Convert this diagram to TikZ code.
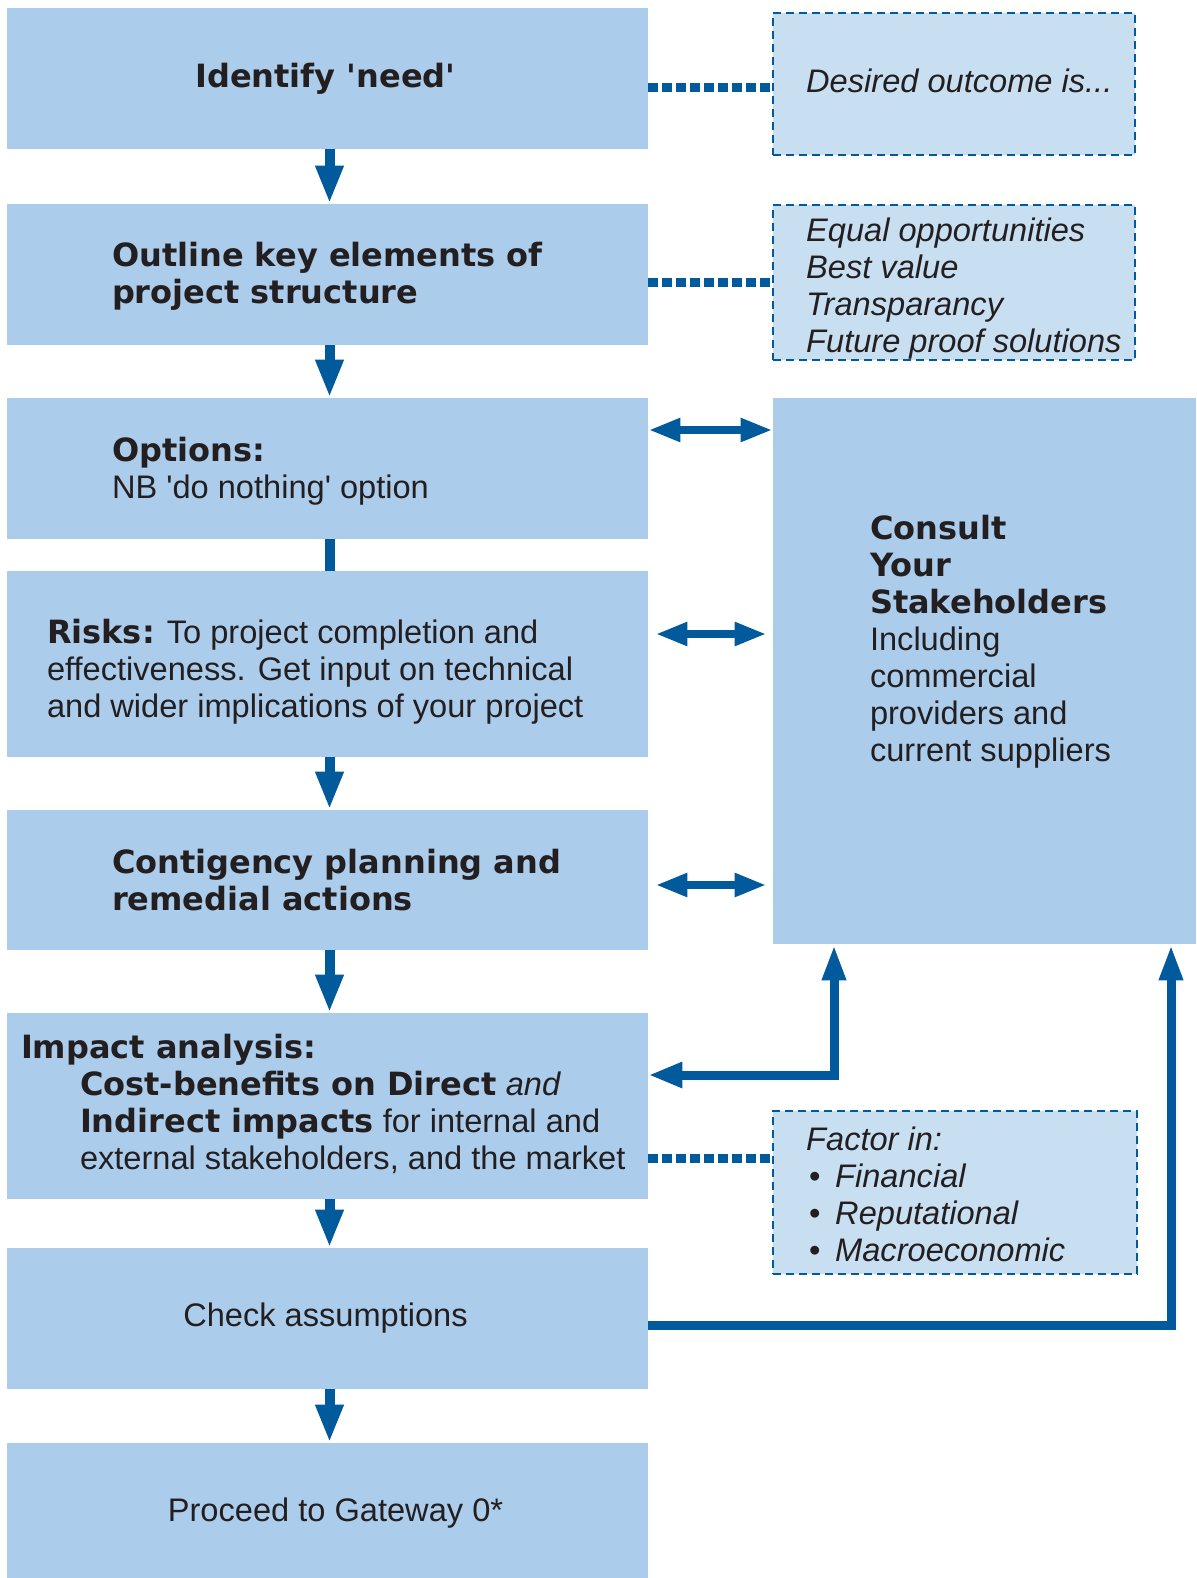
\documentclass[tikz,border=0pt]{standalone}
\usepackage{fontspec}
\setmainfont{Liberation Sans}[Ligatures=TeXOff, BoldFont={DejaVu Sans Bold}, BoldFeatures={Scale=0.982}]
\usetikzlibrary{arrows.meta,calc}
\definecolor{boxblue}{HTML}{ABCCEB}
\definecolor{notefill}{HTML}{C8DFF2}
\definecolor{arrowblue}{HTML}{005A9C}
\definecolor{ink}{HTML}{231F20}
\begin{document}
\begin{tikzpicture}[x=0.5pt,y=-0.5pt,
  box/.style={fill=boxblue, inner sep=0pt, minimum width=320.5pt},
  note/.style={fill=notefill, draw=arrowblue, line width=1.2pt, dash pattern=on 4pt off 2.5pt, inner sep=0pt},
  txt/.style={text=ink, font=\fontsize{16.3}{18.5}\selectfont, align=left, inner sep=0pt},
  flow/.style={draw=arrowblue, line width=5pt, -{Triangle[length=19pt,width=13pt]}},
  plainflow/.style={draw=arrowblue, line width=5pt},
  dotline/.style={draw=arrowblue, line width=4.5pt, dash pattern=on 5pt off 2pt},
  dbl/.style={draw=arrowblue, line width=4pt, {Triangle[length=16pt,width=11pt]}-{Triangle[length=16pt,width=11pt]}},
  elb/.style={draw=arrowblue, line width=4.5pt}
]
\useasboundingbox (0,0) rectangle (1196,1578);
\fill[white] (0,0) rectangle (1196,1578);

% left column boxes
\node[box, minimum height=70.5pt] (b1) at (327.5,78.5) {};
\node[box, minimum height=70.5pt] (b2) at (327.5,274.5) {};
\node[box, minimum height=70.5pt] (b3) at (327.5,468.5) {};
\node[box, minimum height=93pt]   (b4) at (327.5,664) {};
\node[box, minimum height=70pt]   (b5) at (327.5,880) {};
\node[box, minimum height=93pt]   (b6) at (327.5,1106) {};
\node[box, minimum height=70.5pt] (b7) at (327.5,1318.5) {};
\node[box, minimum height=67.5pt] (b8) at (327.5,1510.5) {};

% right column
\node[box, minimum width=211.5pt, minimum height=273pt] (cons) at (984.5,671) {};
\node[note, minimum width=181pt, minimum height=71pt] (d1) at (954,84) {};
\node[note, minimum width=181pt, minimum height=77.5pt] (d2) at (954,282.5) {};
\node[note, minimum width=182pt, minimum height=81.5pt] (d3) at (955,1192.5) {};

% texts
\node[txt] (t1) at ([xshift=-1pt]b1.center) {\textbf{Identify 'need'}};
\node[txt, anchor=west] (t2) at ([xshift=52.5pt,yshift=-1pt]b2.west) {\textbf{Outline key elements of}\\\textbf{project structure}};
\node[txt, anchor=west] (t3) at ([xshift=52.5pt,yshift=-1.5pt]b3.west) {\textbf{Options:}\\NB 'do nothing' option};
\node[txt, anchor=west] (t4) at ([xshift=20pt,yshift=-4pt]b4.west) {\textbf{Risks:} To project completion and\\effectiveness. Get input on technical\\and wider implications of your project};
\node[txt, anchor=west] (t5) at ([xshift=52.5pt]b5.west) {\textbf{Contigency planning and}\\\textbf{remedial actions}};
\node[txt, anchor=west] (t6) at ([xshift=7pt,yshift=1pt]b6.west) {\textbf{Impact analysis:}\\
  \hspace*{29.5pt}\textbf{Cost-benefits on Direct} \textit{and}\\
  \hspace*{29.5pt}\textbf{Indirect impacts} for internal and\\
  \hspace*{29.5pt}external stakeholders, and the market};
\node[txt] (t7) at ([xshift=-1pt]b7.center) {Check assumptions};
\node[txt] (t8) at ([xshift=4pt,yshift=-1.5pt]b8.center) {Proceed to Gateway 0*};

\node[txt, anchor=west] (tc) at ([xshift=48.5pt,yshift=14.5pt]cons.west) {\textbf{Consult}\\\textbf{Your}\\\textbf{Stakeholders}\\Including\\commercial\\providers and\\current suppliers};
\node[txt, anchor=west] (td1) at ([xshift=17pt,yshift=1.5pt]d1.west) {\textit{Desired outcome is...}};
\node[txt, anchor=west] (td2) at ([xshift=17pt,yshift=-3pt]d2.west) {\textit{Equal opportunities}\\\textit{Best value}\\\textit{Transparancy}\\\textit{Future proof solutions}};
\node[txt, anchor=west] (td3) at ([xshift=17pt,yshift=-1pt]d3.west) {\textit{Factor in:}\\
  \hspace*{1.5pt}\makebox[13pt][l]{\textbullet}\textit{Financial}\\
  \hspace*{1.5pt}\makebox[13pt][l]{\textbullet}\textit{Reputational}\\
  \hspace*{1.5pt}\makebox[13pt][l]{\textbullet}\textit{Macroeconomic}};

% vertical flow
\draw[flow] ([xshift=1pt]b1.south) -- ([xshift=1pt]b2.north);
\draw[flow] ([xshift=1pt]b2.south) -- ([xshift=1pt]b3.north);
\draw[plainflow] ([xshift=1pt]b3.south) -- ([xshift=1pt]b4.north);
\draw[flow] ([xshift=1pt]b4.south) -- ([xshift=1pt]b5.north);
\draw[flow] ([xshift=1pt]b5.south) -- ([xshift=1pt]b6.north);
\draw[flow] ([xshift=1pt]b6.south) -- ([xshift=1pt]b7.north);
\draw[flow] ([xshift=1pt]b7.south) -- ([xshift=1pt]b8.north);

% dotted links
\draw[dotline] (b1.east |- 0,88) -- (d1.west |- 0,88);
\draw[dotline] (b2.east |- d2.west) -- (d2.west);
\draw[dotline] (b6.east |- 0,1158) -- (d3.west |- 0,1158);

% double arrows
\draw[dbl] (b3.east |- 0,430) -- (cons.west |- 0,430);
\draw[dbl] ($(b4.east |- 0,634)+(7,0)$) -- ($(cons.west |- 0,634)+(-6,0)$);
\draw[dbl] ($(b5.east |- 0,885)+(7,0)$) -- ($(cons.west |- 0,885)+(-6,0)$);

% elbow arrows
\draw[elb, {Triangle[length=17pt,width=12pt]}-{Triangle[length=18pt,width=11pt]}] (b6.east |- 0,1075) -| (cons.south -| 834,0);
\draw[elb, -{Triangle[length=18pt,width=11pt]}] (b7.east |- 0,1325) -| (cons.south -| 1171,0);
\end{tikzpicture}
\end{document}
